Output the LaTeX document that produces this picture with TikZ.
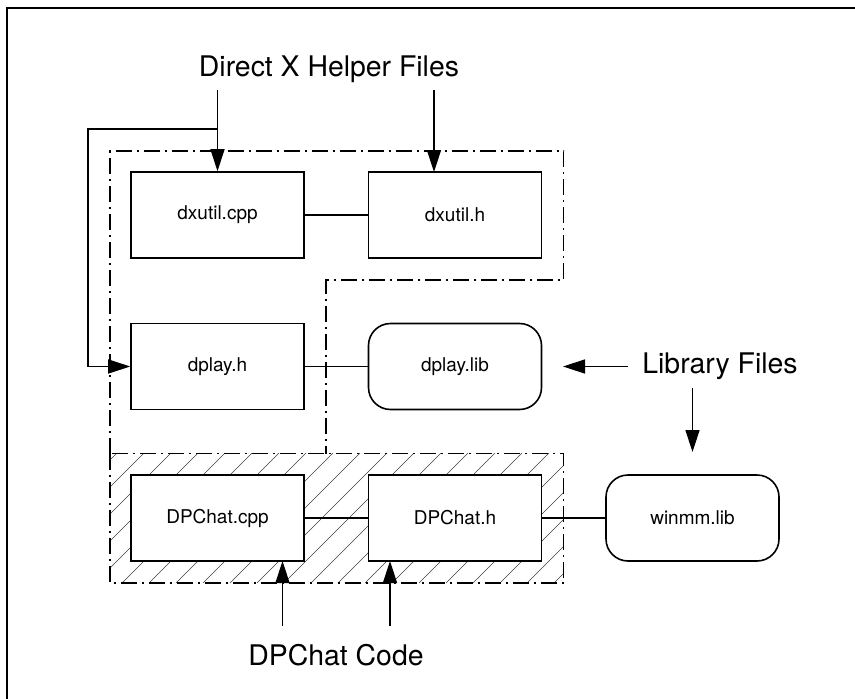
\documentclass[tikz,border=0pt]{standalone}
\usepackage{fontspec}
\setmainfont{TeX Gyre Heros}
\usetikzlibrary{arrows.meta}
\tikzset{
  filebox/.style={draw, line width=1.6pt, fill=white, minimum width=173pt, minimum height=86pt, inner sep=0pt, font=\fontsize{19}{22}\selectfont},
  libbox/.style={filebox, rounded corners=22pt},
  bigtext/.style={inner sep=0pt, anchor=base, font=\fontsize{28.4}{32}\selectfont},
  conn/.style={line width=1.5pt},
  arr/.style={line width=1.5pt, -{Triangle[length=22pt,width=14pt]}},
  region/.style={line width=1.5pt, dash pattern=on 16pt off 5pt on 2pt off 5pt},
  hatch/.style={line width=0.6pt, black!75}
}
\begin{document}
\begin{tikzpicture}[x=1pt,y=-1pt]
\useasboundingbox (0,0) rectangle (855,699);
\fill[white] (0,0) rectangle (855,699);
% frame (top and left only)
\draw[line width=2pt] (7,699) -- (7,8) -- (855,8);

% hatched region
\begin{scope}
  \clip (110,453.5) rectangle (563.5,583);
  \foreach \i in {0,...,24} {
    \draw[hatch] ({-40+27*\i},583) -- ++(140,-140);
  }
\end{scope}
\draw[region] (110,453.5) rectangle (563.5,583);

% upper L-shaped region
\draw[region] (110,453.5) -- (110,151) -- (563.5,151) -- (563.5,280) -- (326,280) -- (326,453.5);

% boxes
\node[filebox] (dxcpp) at (217.5,215) {dxutil.cpp};
\node[filebox] (dxh) at (455,215) {dxutil.h};
\node[filebox] (dplayh) at (217.5,366.5) {dplay.h};
\node[libbox] (dplaylib) at (455,366.5) {dplay.lib};
\node[filebox] (dpcpp) at (217.5,518) {DPChat.cpp};
\node[filebox] (dph) at (455,518) {DPChat.h};
\node[libbox] (winmm) at (692.5,518) {winmm.lib};

% connectors between boxes
\draw[conn] (dxcpp.east) -- (dxh.west);
\draw[conn] (dplayh.east) -- (dplaylib.west);
\draw[conn] (dpcpp.east) -- (dph.west);
\draw[conn] (dph.east) -- (winmm.west);

% labels
\node[bigtext] (dxlabel) at (329,76) {Direct X Helper Files};
\node[bigtext] (liblabel) at (720,373) {Library Files};
\node[bigtext] (dplabel) at (336,665) {DPChat Code};

% label arrows
\coordinate (dxa) at (217.5,90);
\coordinate (dxb) at (434,90);
\coordinate (dxbt) at (434,172);
\coordinate (bend1) at (217.5,129);
\coordinate (bend2) at (88,129);
\coordinate (bend3) at (88,366.5);
\draw[arr] (dxa) -- (dxcpp.north);
\draw[conn] (bend1) -- (bend2) -- (bend3);
\draw[arr] (bend3) -- (dplayh.west);
\draw[arr] (dxb) -- (dxbt);

\coordinate (la) at (628,366.5);
\coordinate (lat) at (563,366.5);
\coordinate (lb) at (692.5,388);
\coordinate (lbt) at (692.5,452);
\draw[arr] (la) -- (lat);
\draw[arr] (lb) -- (lbt);

\coordinate (pa) at (282.5,626);
\coordinate (pat) at (282.5,561);
\coordinate (pb) at (390,626);
\coordinate (pbt) at (390,561);
\draw[arr] (pa) -- (pat);
\draw[arr] (pb) -- (pbt);
\end{tikzpicture}
\end{document}
